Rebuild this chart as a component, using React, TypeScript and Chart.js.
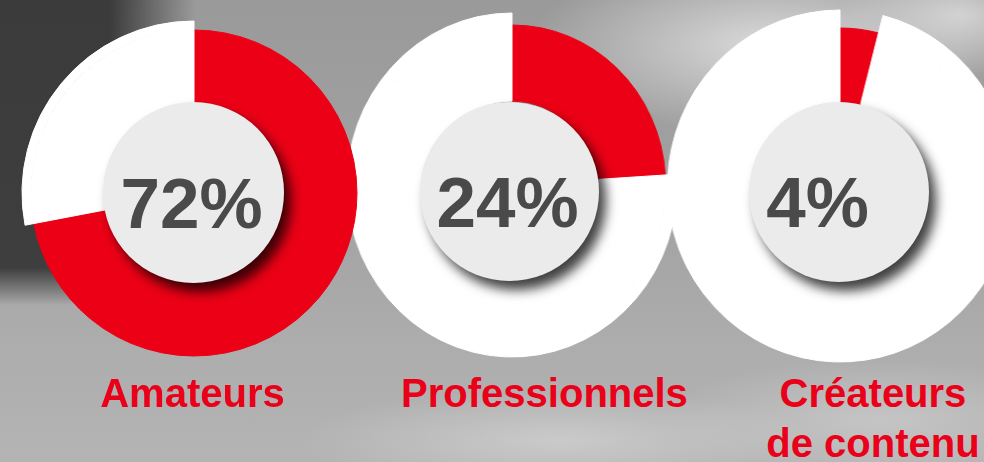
import React, { useEffect, useRef } from 'react';
import { Chart, registerables } from 'chart.js';

Chart.register(...registerables);

// ---- data ----
const categories = ['Amateurs', 'Professionnels', 'Créateurs de contenu'];
const labelLines = [['Amateurs'], ['Professionnels'], ['Créateurs', 'de contenu']];
const shares = [72, 24, 4];
const remainders = [28, 76, 96];
const centerTexts = ['72%', '24%', '4%'];

// ---- style / layout ----
const RED = '#ec0016';
const LABEL_RED = '#ea0019';
const WHITE = '#ffffff';
const DISC = '#ebebeb';
const TEXT_GREY = '#4a4a4a';
const FONT = "'Liberation Sans', Arial, Helvetica, sans-serif";

const geometry = [
  { cx: 194, cy: 193, rOuter: 172, rRed: 163, hole: 84, sx: 1, dx: 193, dy: 192.5, dr: 90.5, tx: 191.5, ty: 202.5, lx: 192.5, z: 3 },
  { cx: 512, cy: 185, rOuter: 172, rRed: 160, hole: 84, sx: 0.96, dx: 509.5, dy: 191.5, dr: 89.5, tx: 507.5, ty: 201.5, lx: 544.5, z: 2 },
  { cx: 840, cy: 186, rOuter: 176, rRed: 158, hole: 84, sx: 0.98, dx: 838.5, dy: 192, dr: 90, tx: 817.5, ty: 201.5, lx: 873, z: 1 },
];

const background = [
  'radial-gradient(ellipse 240px 90px at 770px 45px, rgba(222,222,222,0.95) 0%, rgba(222,222,222,0) 100%)',
  'radial-gradient(ellipse 120px 60px at 960px 15px, rgba(215,215,215,0.9) 0%, rgba(215,215,215,0) 100%)',
  'radial-gradient(ellipse 70px 90px at 990px 185px, rgba(110,110,110,0.85) 0%, rgba(110,110,110,0) 100%)',
  'radial-gradient(ellipse 260px 50px at 560px 440px, rgba(212,212,212,0.7) 0%, rgba(212,212,212,0) 100%)',
  'radial-gradient(ellipse 220px 60px at 880px 420px, rgba(205,205,205,0.7) 0%, rgba(205,205,205,0) 100%)',
  'linear-gradient(180deg, #9a9a9a 0%, #a2a2a2 45%, #adadad 75%, #b4b4b4 100%)',
].join(', ');

export default function App() {
  const refs = useRef<(HTMLCanvasElement | null)[]>([]);

  useEffect(() => {
    const charts = shares.map((v, i) => {
      const g = geometry[i];
      const canvas = refs.current[i] as HTMLCanvasElement;
      return new Chart(canvas, {
        type: 'doughnut',
        data: {
          labels: [categories[i], 'Autres'],
          datasets: [
            {
              data: [shares[i], remainders[i]],
              backgroundColor: ['rgba(0,0,0,0)', WHITE],
              borderColor: ['rgba(0,0,0,0)', WHITE],
              borderWidth: [0, 1],
              weight: g.rOuter - g.rRed,
            },
            {
              data: [shares[i], remainders[i]],
              backgroundColor: [RED, WHITE],
              borderColor: [RED, WHITE],
              borderWidth: 1,
              weight: g.rRed - g.hole,
            },
          ],
        },
        options: {
          responsive: true,
          maintainAspectRatio: false,
          animation: false,
          events: [],
          radius: g.rOuter,
          cutout: `${(g.hole / g.rOuter) * 100}%`,
          hoverOffset: 0,
          layout: { padding: 0 },
          plugins: { legend: { display: false }, tooltip: { enabled: false } },
        } as any,
      });
    });
    return () => charts.forEach((c) => c.destroy());
  }, []);

  return (
    <div
      style={{
        position: 'fixed',
        left: 0,
        top: 0,
        width: 984,
        height: 462,
        overflow: 'hidden',
        background,
        fontFamily: FONT,
      }}
    >
      <div
        style={{
          position: 'absolute',
          left: 0,
          top: 0,
          width: 200,
          height: 310,
          background: 'linear-gradient(180deg, #3b3b3b 0px, #3e3e3e 268px, rgba(62,62,62,0) 305px)',
          WebkitMaskImage: 'linear-gradient(90deg, #000 0px, #000 110px, transparent 195px)',
          maskImage: 'linear-gradient(90deg, #000 0px, #000 110px, transparent 195px)',
        }}
      />
      {geometry.map((g, i) => {
        const S = 2 * g.rOuter + 6;
        return (
          <div key={i} style={{ position: 'absolute', left: 0, top: 0, zIndex: g.z }}>
            <div
              style={{
                position: 'absolute',
                left: g.cx - S / 2,
                top: g.cy - S / 2,
                width: S,
                height: S,
                transform: `scaleX(${g.sx})`,
              }}
            >
              <canvas ref={(el) => { refs.current[i] = el; }} />
            </div>
            <div
              style={{
                position: 'absolute',
                left: g.dx - g.dr,
                top: g.dy - g.dr,
                width: 2 * g.dr,
                height: 2 * g.dr,
                borderRadius: '50%',
                background: DISC,
                boxShadow: '7px 9px 12px rgba(0,0,0,0.75)',
              }}
            />
            <div
              style={{
                position: 'absolute',
                left: g.tx - 120,
                top: g.ty - 35,
                width: 240,
                height: 71,
                lineHeight: '71px',
                fontSize: 71,
                fontWeight: 700,
                color: TEXT_GREY,
                textAlign: 'center',
                whiteSpace: 'nowrap',
              }}
            >
              {centerTexts[i]}
            </div>
          </div>
        );
      })}
      {geometry.map((g, i) => (
        <div
          key={'l' + i}
          style={{
            position: 'absolute',
            left: g.lx - 160,
            top: 368,
            width: 320,
            fontSize: 40,
            lineHeight: '50px',
            fontWeight: 700,
            color: LABEL_RED,
            textAlign: 'center',
            whiteSpace: 'nowrap',
            zIndex: 5,
          }}
        >
          {labelLines[i].map((t, k) => (
            <div key={k}>{t}</div>
          ))}
        </div>
      ))}
    </div>
  );
}
